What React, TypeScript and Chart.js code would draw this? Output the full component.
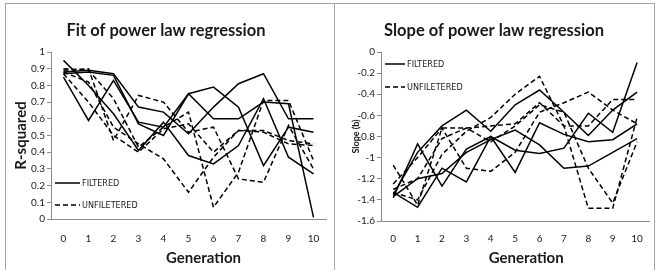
import React, { useEffect, useRef } from "react";
import { Chart, registerables } from "chart.js";

Chart.register(...registerables);

// ---------- data ----------
const generations = ["0", "1", "2", "3", "4", "5", "6", "7", "8", "9", "10"];
const legendLabels = ["FILTERED", "UNFILETERED"];

const fitTitle = "Fit of power law regression";
const fitYTitle = "R-squared";
const slopeTitle = "Slope of power law regression";
const slopeYTitle = "Slope (b)";
const xTitle = "Generation";

// R-squared, filtered runs (solid)
const fitFilteredA = [0.88, 0.89, 0.87, 0.67, 0.64, 0.51, 0.67, 0.81, 0.87, 0.6, 0.6];
const fitFilteredB = [0.85, 0.59, 0.83, 0.58, 0.55, 0.75, 0.79, 0.67, 0.32, 0.55, 0.52];
const fitFilteredC = [0.87, 0.88, 0.86, 0.57, 0.5, 0.75, 0.6, 0.6, 0.7, 0.69, 0.01];
const fitFilteredD = [0.95, 0.8, 0.63, 0.41, 0.58, 0.38, 0.33, 0.44, 0.72, 0.37, 0.27];
// R-squared, unfiltered runs (dashed)
const fitUnfilteredA = [0.89, 0.9, 0.47, 0.74, 0.7, 0.52, 0.55, 0.24, 0.22, 0.56, 0.3];
const fitUnfilteredB = [0.88, 0.82, 0.55, 0.45, 0.36, 0.16, 0.37, 0.53, 0.53, 0.47, 0.45];
const fitUnfilteredC = [0.9, 0.89, 0.72, 0.43, 0.55, 0.64, 0.07, 0.28, 0.71, 0.71, 0.35];
const fitUnfilteredD = [0.87, 0.7, 0.5, 0.4, 0.54, 0.57, 0.4, 0.53, 0.52, 0.45, 0.44];

// Slope, filtered runs (solid)
const slopeFilteredA = [-1.35, -0.95, -0.7, -0.55, -0.75, -0.5, -0.36, -0.57, -0.79, -0.55, -0.38];
const slopeFilteredB = [-1.38, -0.87, -1.27, -0.92, -0.8, -1.14, -0.67, -0.78, -0.85, -0.83, -0.68];
const slopeFilteredC = [-1.33, -1.47, -1.1, -1.23, -0.8, -0.93, -0.96, -0.91, -0.58, -0.76, -0.1];
const slopeFilteredD = [-1.37, -1.2, -1.15, -0.95, -0.83, -0.74, -0.88, -1.1, -1.08, -0.95, -0.82];
// Slope, unfiltered runs (dashed)
const slopeUnfilteredA = [-1.07, -1.45, -0.72, -0.72, -0.7, -0.68, -0.48, -0.7, -0.7, -0.45, -0.45];
const slopeUnfilteredB = [-1.25, -1.0, -0.72, -1.1, -1.13, -0.95, -0.57, -0.48, -0.38, -0.55, -0.68];
const slopeUnfilteredC = [-1.33, -1.4, -0.97, -0.75, -0.62, -0.4, -0.23, -0.7, -1.48, -1.48, -0.62];
const slopeUnfilteredD = [-1.3, -1.2, -0.82, -0.72, -0.85, -0.7, -0.5, -0.57, -1.1, -1.43, -0.85];

const fitYTicks = { min: 0, max: 1, step: 0.1 };
const slopeYTicks = { min: -1.6, max: 0, step: 0.2 };

// ---------- styling ----------
const FONT = "Lato, 'Open Sans', sans-serif";
const NARROW = "'Liberation Sans Narrow', 'DejaVu Sans Condensed', sans-serif";
const AXIS = "#8c8c8c";
const TEXT = "#1a1a1a";
const DASH = [5, 3];

const fmt = (v: number) => {
  if (Math.abs(v) < 1e-9) return "0";
  return String(Number(v.toFixed(1)));
};

const insideLegend = {
  id: "insideLegend",
  afterDatasetsDraw(chart: any, _args: any, opts: any) {
    const { ctx, chartArea } = chart;
    legendLabels.forEach((label, i) => {
      const y = chartArea.top + opts.y + i * opts.gap;
      const x0 = chartArea.left + opts.x;
      ctx.save();
      ctx.strokeStyle = "#000";
      ctx.lineWidth = 1.5;
      ctx.setLineDash(i === 0 ? [] : DASH);
      ctx.beginPath();
      ctx.moveTo(x0, y);
      ctx.lineTo(x0 + opts.len, y);
      ctx.stroke();
      ctx.setLineDash([]);
      ctx.fillStyle = TEXT;
      ctx.font = `9px ${NARROW}`;
      ctx.textBaseline = "middle";
      ctx.textAlign = "left";
      ctx.fillText(label, x0 + opts.len + 2, y + 0.5);
      ctx.restore();
    });
  },
};

const xAxisTitle = {
  id: "xAxisTitle",
  afterDraw(chart: any, _args: any, opts: any) {
    const { ctx, chartArea } = chart;
    ctx.save();
    ctx.fillStyle = TEXT;
    ctx.font = `bold 15px ${FONT}`;
    ctx.textAlign = "center";
    ctx.textBaseline = "middle";
    ctx.fillText(opts.text, (chartArea.left + chartArea.right) / 2 + opts.dx, chartArea.bottom + opts.dy);
    ctx.restore();
  },
};

function makeDatasets(solid: number[][], dashed: number[][]) {
  const base = {
    borderColor: "#000",
    backgroundColor: "#000",
    borderWidth: 1.5,
    pointRadius: 0,
    tension: 0,
    fill: false,
  };
  return [
    ...solid.map((d) => ({ ...base, label: legendLabels[0], data: d, borderDash: [] as number[] })),
    ...dashed.map((d) => ({ ...base, label: legendLabels[1], data: d, borderDash: DASH })),
  ];
}

interface PanelCfg {
  title: string;
  yTitle: string;
  yTitleSize: number;
  yTitlePad: number;
  yWidth: number;
  xHeight: number;
  xTickPad: number;
  padRight: number;
  ticks: { min: number; max: number; step: number };
  solid: number[][];
  dashed: number[][];
  legend: { x: number; y: number; gap: number; len: number };
  xTitleDx: number;
  xTitleDy: number;
}

function Panel({ cfg, width, height }: { cfg: PanelCfg; width: number; height: number }) {
  const ref = useRef<HTMLCanvasElement | null>(null);
  useEffect(() => {
    if (!ref.current) return;
    const chart = new Chart(ref.current, {
      type: "line",
      data: { labels: generations, datasets: makeDatasets(cfg.solid, cfg.dashed) as any },
      plugins: [insideLegend as any, xAxisTitle as any],
      options: {
        animation: false,
        responsive: false,
        maintainAspectRatio: false,
        layout: { padding: { left: 0, top: 0, bottom: 0, right: cfg.padRight } },
        plugins: {
          legend: { display: false },
          tooltip: { enabled: false },
          title: {
            display: true,
            text: cfg.title,
            color: TEXT,
            font: { family: FONT, size: 16.5, weight: "bold" },
            padding: { top: 17, bottom: 11.2 },
          },
          insideLegend: cfg.legend,
          xAxisTitle: { text: xTitle, dx: cfg.xTitleDx, dy: cfg.xTitleDy },
        } as any,
        scales: {
          x: {
            type: "category",
            offset: true,
            grid: { display: true, drawOnChartArea: false, drawTicks: false },
            border: { display: true, color: AXIS, width: 1 },
            ticks: { color: TEXT, font: { family: FONT, size: 10 }, padding: cfg.xTickPad, maxRotation: 0, autoSkip: false },
            afterFit: (s: any) => {
              s.height = cfg.xHeight;
            },
          },
          y: {
            min: cfg.ticks.min,
            max: cfg.ticks.max,
            grid: { display: true, drawOnChartArea: false, drawTicks: true, tickLength: 4, color: AXIS },
            border: { display: true, color: AXIS, width: 1 },
            ticks: {
              stepSize: cfg.ticks.step,
              color: TEXT,
              font: { family: FONT, size: 10 },
              padding: 2,
              callback: (v: any) => fmt(Number(v)),
            },
            title: {
              display: true,
              text: cfg.yTitle,
              color: TEXT,
              font: { family: FONT, size: cfg.yTitleSize, weight: "bold" },
              padding: { top: cfg.yTitlePad, bottom: 0 },
            },
            afterFit: (s: any) => {
              s.width = cfg.yWidth;
            },
          },
        },
      } as any,
    });
    return () => chart.destroy();
  }, [cfg]);
  return <canvas ref={ref} width={width} height={height} style={{ width, height, display: "block" }} />;
}

const fitCfg: PanelCfg = {
  title: fitTitle,
  yTitle: fitYTitle,
  yTitleSize: 15,
  yTitlePad: 6,
  yWidth: 45,
  xHeight: 51,
  xTickPad: 14,
  padRight: 8,
  ticks: fitYTicks,
  solid: [fitFilteredA, fitFilteredB, fitFilteredC, fitFilteredD],
  dashed: [fitUnfilteredA, fitUnfilteredB, fitUnfilteredC, fitUnfilteredD],
  legend: { x: 4, y: 131, gap: 22, len: 25 },
  xTitleDx: 15,
  xTitleDy: 39,
};

const slopeCfg: PanelCfg = {
  title: slopeTitle,
  yTitle: slopeYTitle,
  yTitleSize: 9,
  yTitlePad: 15.5,
  yWidth: 46,
  xHeight: 49,
  xTickPad: 12,
  padRight: 2,
  ticks: slopeYTicks,
  solid: [slopeFilteredA, slopeFilteredB, slopeFilteredC, slopeFilteredD],
  dashed: [slopeUnfilteredA, slopeUnfilteredB, slopeUnfilteredC, slopeUnfilteredD],
  legend: { x: 4, y: 12, gap: 23, len: 20 },
  xTitleDx: 11,
  xTitleDy: 37,
};

export default function App() {
  return (
    <div style={{ position: "fixed", left: 0, top: 0, width: 655, height: 270, background: "#fff", overflow: "hidden" }}>
      <div style={{ position: "absolute", left: 5, top: 3, width: 328, height: 300, border: "1px solid #a6a6a6" }} />
      <div style={{ position: "absolute", left: 334, top: 3, width: 319, height: 300, border: "1px solid #a6a6a6" }} />
      <div style={{ position: "absolute", left: 6, top: 4 }}>
        <Panel cfg={fitCfg} width={328} height={266} />
      </div>
      <div style={{ position: "absolute", left: 335, top: 4 }}>
        <Panel cfg={slopeCfg} width={320} height={266} />
      </div>
    </div>
  );
}
